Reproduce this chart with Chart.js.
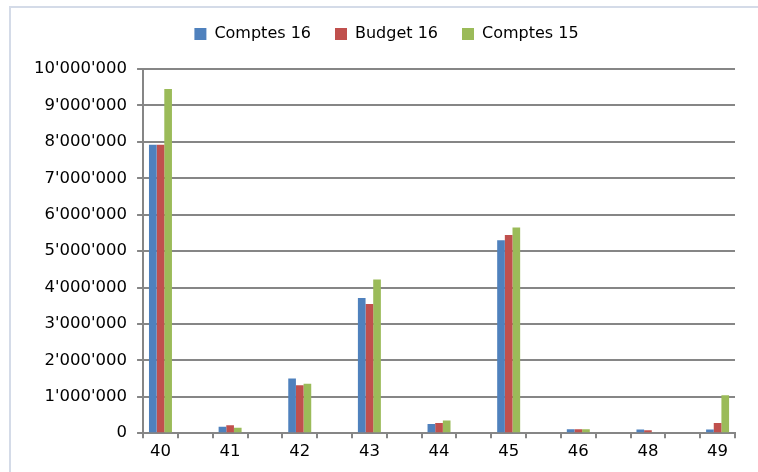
<!DOCTYPE html>
<html lang="fr">
<head>
    <meta charset="UTF-8">
    <title>Comptes 16 / Budget 16 / Comptes 15</title>
    <script src="https://cdn.jsdelivr.net/npm/chart.js"></script>
    <style>
        html, body { margin: 0; padding: 0; background: #fff; }
        #wrap { position: relative; width: 758px; height: 472px; }
        #frame {
            position: absolute; left: 9px; top: 6px; right: 0; bottom: 0;
            border-top: 2px solid #d4dbe8; border-left: 2px solid #d4dbe8;
        }
        canvas { position: absolute; left: 0; top: 0; }
    </style>
</head>
<body>
<div id="wrap">
    <div id="frame"></div>
    <canvas id="chart" width="758" height="472"></canvas>
</div>
<script>
    // account groups shown on the x axis
    const categories = ['40', '41', '42', '43', '44', '45', '46', '48', '49'];
    const comptes16 = [7920000, 180000, 1500000, 3710000, 250000, 5300000, 110000, 100000, 100000];
    const budget16  = [7920000, 220000, 1320000, 3550000, 280000, 5440000, 110000, 80000, 280000];
    const comptes15 = [9450000, 150000, 1360000, 4220000, 350000, 5650000, 110000, 0, 1040000];
    const yTicks = [0, 1000000, 2000000, 3000000, 4000000, 5000000, 6000000, 7000000, 8000000, 9000000, 10000000];

    // Excel left an empty slot between each category
    function spread(arr, blank) {
        const out = [];
        arr.forEach(function(v, i) {
            out.push(v);
            if (i < arr.length - 1) out.push(blank);
        });
        return out;
    }

    function fmt(v) {
        return String(v).replace(/\B(?=(\d{3})+(?!\d))/g, "'");
    }

    const font = { family: 'DejaVu Sans', size: 16.5 };

    // more room under the legend, and nudge it right a little
    const legendTweak = {
        id: 'legendTweak',
        beforeInit: function(chart) {
            const fit = chart.legend.fit;
            chart.legend.fit = function() {
                fit.bind(chart.legend)();
                this.height += 17;
            };
        },
        afterLayout: function(chart) {
            chart.legend.left += 7;
            chart.legend.right += 7;
        }
    };

    new Chart(document.getElementById('chart'), {
        type: 'bar',
        data: {
            labels: spread(categories, ''),
            datasets: [
                { label: 'Comptes 16', data: spread(comptes16, null), backgroundColor: '#4F81BD' },
                { label: 'Budget 16', data: spread(budget16, null), backgroundColor: '#C0504D' },
                { label: 'Comptes 15', data: spread(comptes15, null), backgroundColor: '#9BBB59' }
            ]
        },
        options: {
            responsive: false,
            animation: false,
            categoryPercentage: 0.66,
            barPercentage: 1,
            layout: { padding: { top: 2, right: 23, left: 24, bottom: 6 } },
            plugins: {
                tooltip: { enabled: false },
                legend: {
                    labels: {
                        font: { family: 'DejaVu Sans', size: 16 },
                        color: '#000',
                        boxWidth: 12,
                        boxHeight: 12,
                        padding: 24
                    }
                }
            },
            scales: {
                x: {
                    grid: {
                        drawOnChartArea: false,
                        drawTicks: true,
                        tickLength: 5,
                        color: '#868686',
                        lineWidth: 2
                    },
                    border: { color: '#868686', width: 2 },
                    ticks: { font: font, color: '#000', autoSkip: false, maxRotation: 0, padding: 4 }
                },
                y: {
                    min: 0,
                    max: 10000000,
                    afterBuildTicks: function(axis) {
                        axis.ticks = yTicks.map(function(v) { return { value: v }; });
                    },
                    grid: { color: '#868686', lineWidth: 2, tickLength: 6 },
                    border: { color: '#868686', width: 2 },
                    ticks: {
                        font: font,
                        color: '#000',
                        padding: 10,
                        callback: function(v) { return fmt(v); }
                    }
                }
            }
        },
        plugins: [legendTweak]
    });
</script>
</body>
</html>
